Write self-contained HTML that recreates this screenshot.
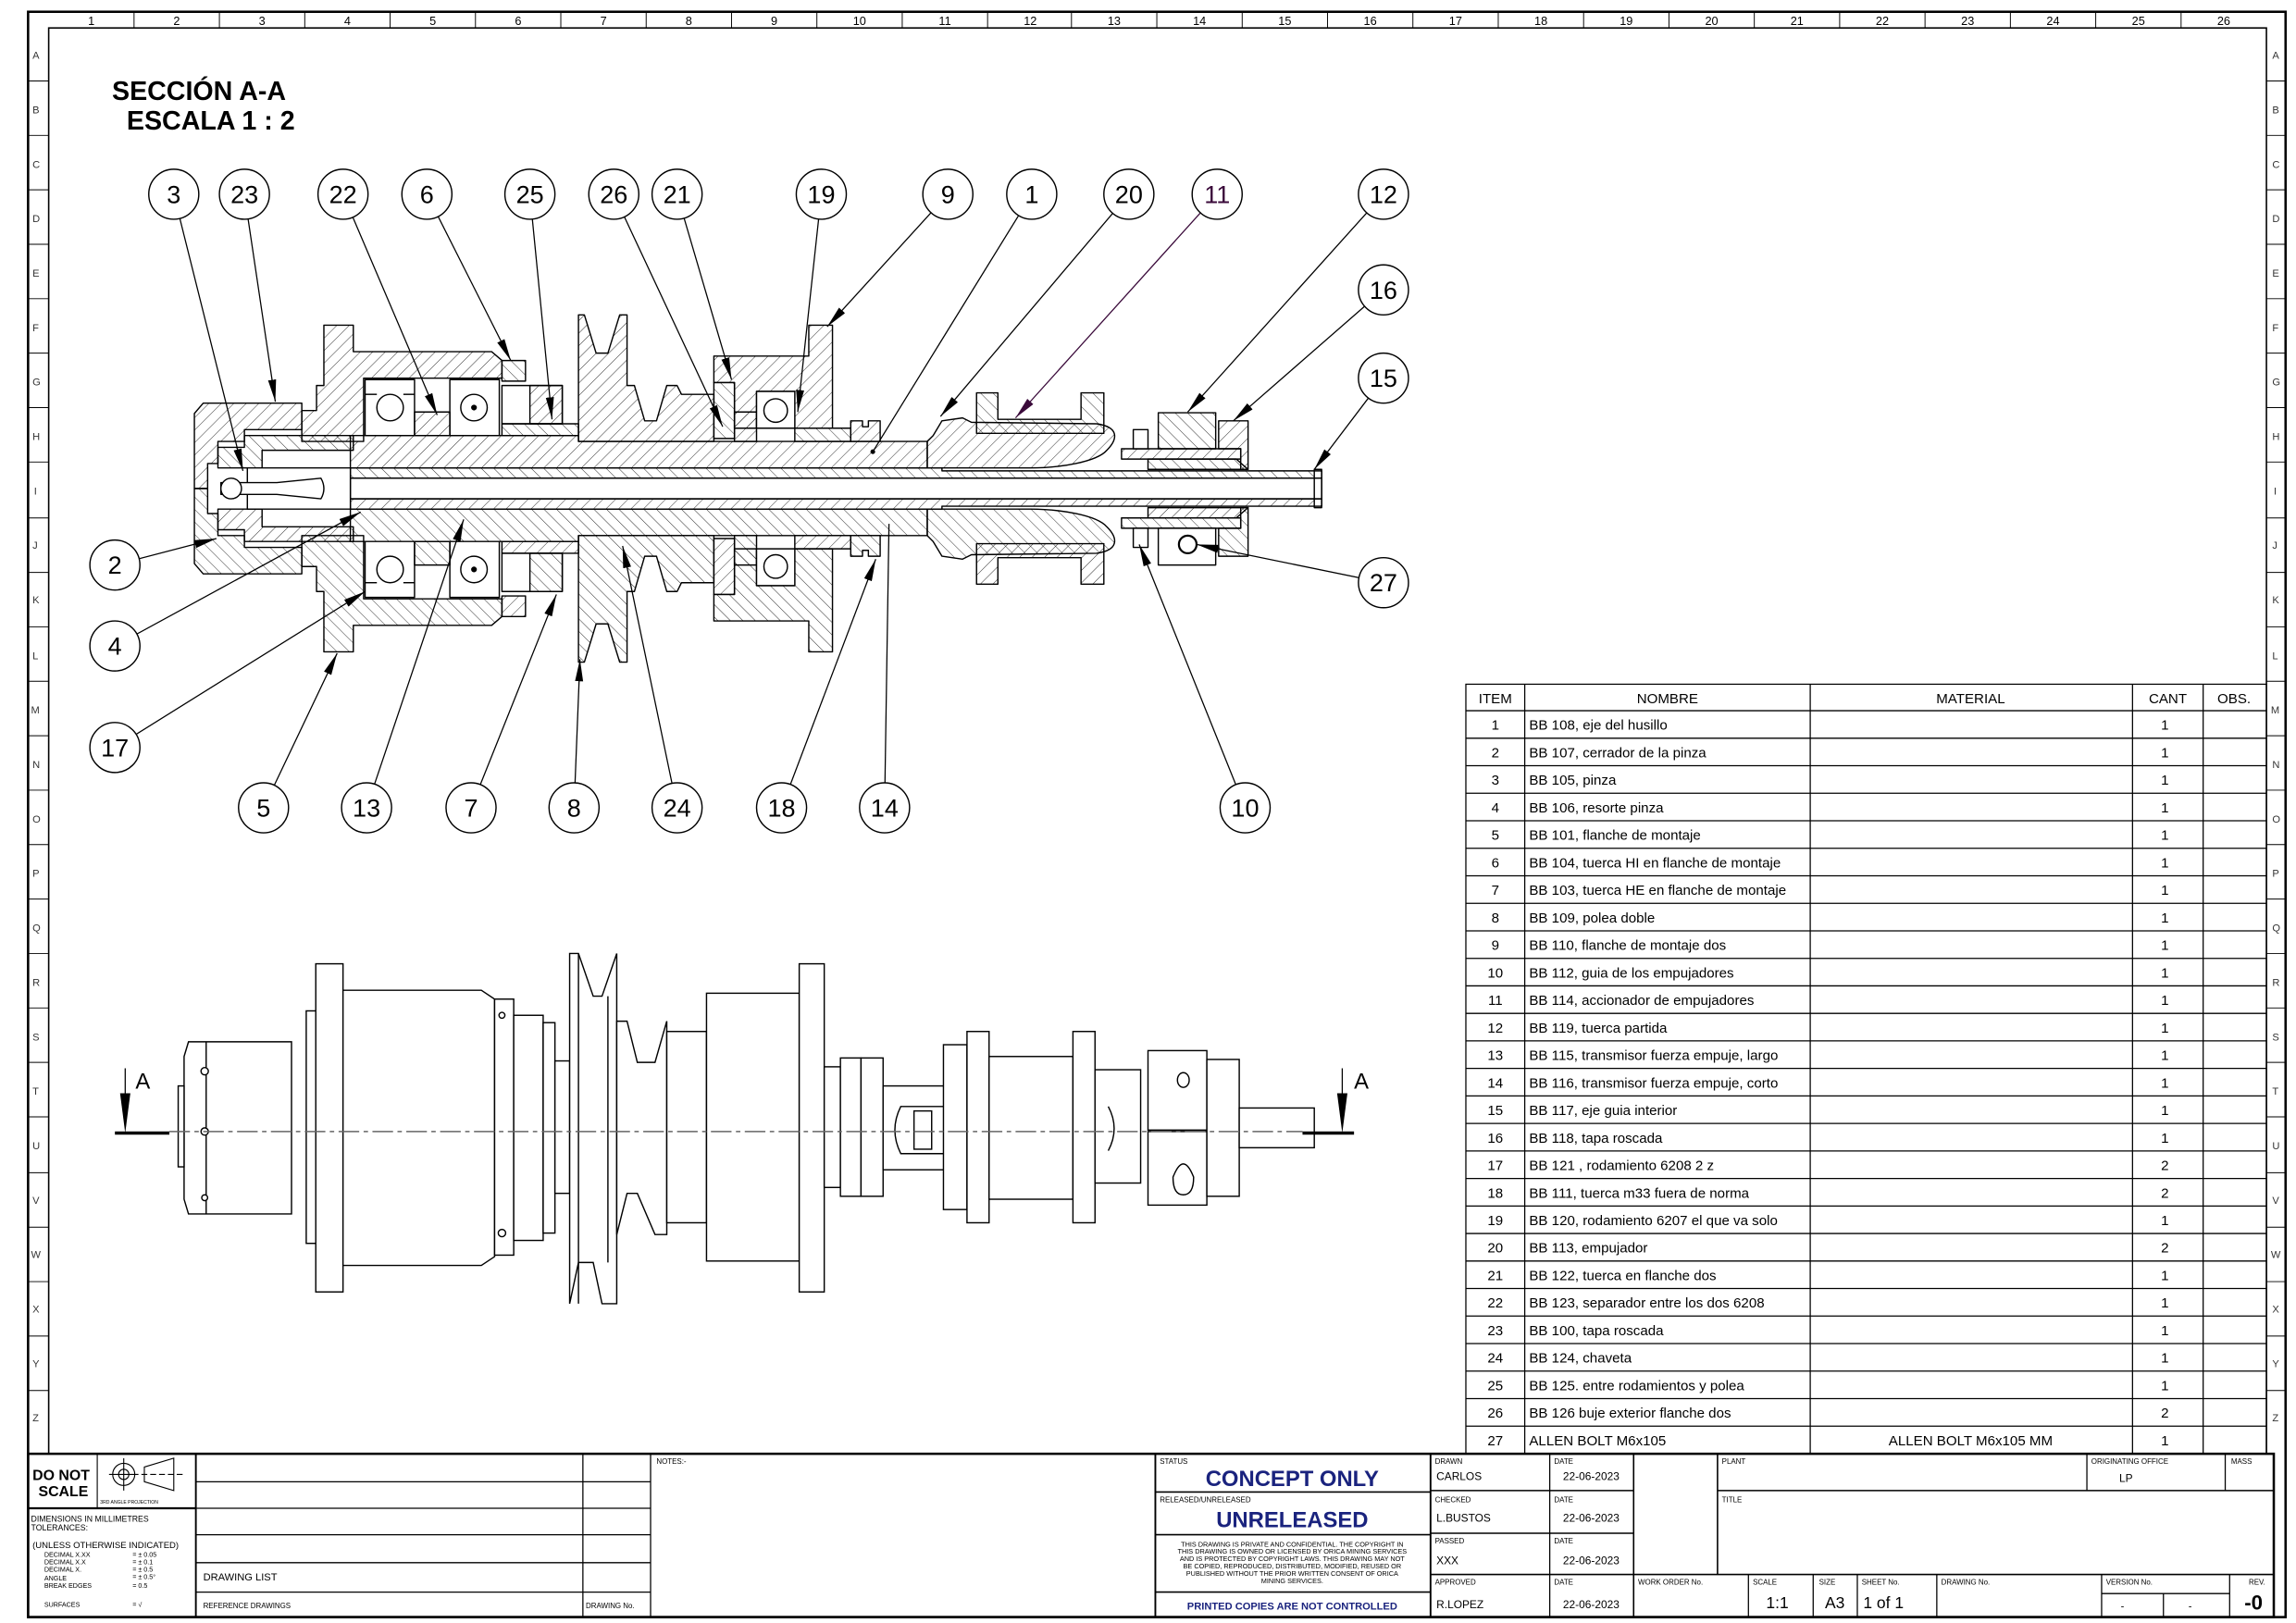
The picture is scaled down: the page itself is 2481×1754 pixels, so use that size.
<!DOCTYPE html>
<html><head><meta charset="utf-8"><style>
html,body{margin:0;padding:0;background:#fff}
svg{display:block}
text{font-family:"Liberation Sans",sans-serif}
.n{font-family:"Liberation Sans Narrow","Liberation Sans",sans-serif}
</style></head><body>
<svg width="2481" height="1754" viewBox="0 0 1560 1103" xmlns="http://www.w3.org/2000/svg">
<defs>
<pattern id="h" width="6" height="6" patternUnits="userSpaceOnUse" patternTransform="rotate(45)"><line x1="0" y1="0" x2="0" y2="6" stroke="#000" stroke-width="0.5"/></pattern>
<pattern id="h2" width="6" height="6" patternUnits="userSpaceOnUse" patternTransform="rotate(-45)"><line x1="0" y1="0" x2="0" y2="6" stroke="#000" stroke-width="0.5"/></pattern>
<marker id="ar" markerUnits="userSpaceOnUse" markerWidth="16" markerHeight="6" refX="15" refY="2.75" orient="auto"><path d="M0,0 L15,2.75 L0,5.5 z" fill="#000"/></marker>
<marker id="arp" markerUnits="userSpaceOnUse" markerWidth="16" markerHeight="6" refX="15" refY="2.75" orient="auto"><path d="M0,0 L15,2.75 L0,5.5 z" fill="#3a0a3a"/></marker>
<marker id="dot" markerUnits="userSpaceOnUse" markerWidth="4" markerHeight="4" refX="2" refY="2"><circle cx="2" cy="2" r="1.6" fill="#000"/></marker>
</defs>
<rect width="1560" height="1103" fill="#fff"/>
<!-- frame -->
<rect x="19" y="8" width="1534" height="1091" fill="none" stroke="#000" stroke-width="1.6"/>
<rect x="33" y="19" width="1507" height="969" fill="none" stroke="#000" stroke-width="1"/>
<g stroke="#000" stroke-width="0.6">
<line x1="91" y1="8" x2="91" y2="19"/><line x1="149" y1="8" x2="149" y2="19"/><line x1="207" y1="8" x2="207" y2="19"/><line x1="265" y1="8" x2="265" y2="19"/><line x1="323" y1="8" x2="323" y2="19"/><line x1="381" y1="8" x2="381" y2="19"/><line x1="439" y1="8" x2="439" y2="19"/><line x1="497" y1="8" x2="497" y2="19"/><line x1="555" y1="8" x2="555" y2="19"/><line x1="613" y1="8" x2="613" y2="19"/><line x1="671" y1="8" x2="671" y2="19"/><line x1="728" y1="8" x2="728" y2="19"/><line x1="786" y1="8" x2="786" y2="19"/><line x1="844" y1="8" x2="844" y2="19"/><line x1="902" y1="8" x2="902" y2="19"/><line x1="960" y1="8" x2="960" y2="19"/><line x1="1018" y1="8" x2="1018" y2="19"/><line x1="1076" y1="8" x2="1076" y2="19"/><line x1="1134" y1="8" x2="1134" y2="19"/><line x1="1192" y1="8" x2="1192" y2="19"/><line x1="1250" y1="8" x2="1250" y2="19"/><line x1="1308" y1="8" x2="1308" y2="19"/><line x1="1366" y1="8" x2="1366" y2="19"/><line x1="1424" y1="8" x2="1424" y2="19"/><line x1="1482" y1="8" x2="1482" y2="19"/>
</g>
<g font-size="8" text-anchor="middle" class="n">
<text x="62" y="17">1</text><text x="120" y="17">2</text><text x="178" y="17">3</text><text x="236" y="17">4</text><text x="294" y="17">5</text><text x="352" y="17">6</text><text x="410" y="17">7</text><text x="468" y="17">8</text><text x="526" y="17">9</text><text x="584" y="17">10</text><text x="642" y="17">11</text><text x="700" y="17">12</text><text x="757" y="17">13</text><text x="815" y="17">14</text><text x="873" y="17">15</text><text x="931" y="17">16</text><text x="989" y="17">17</text><text x="1047" y="17">18</text><text x="1105" y="17">19</text><text x="1163" y="17">20</text><text x="1221" y="17">21</text><text x="1279" y="17">22</text><text x="1337" y="17">23</text><text x="1395" y="17">24</text><text x="1453" y="17">25</text><text x="1511" y="17">26</text>
</g>
<g stroke="#000" stroke-width="0.6">
<line x1="19" y1="55" x2="33" y2="55"/><line x1="19" y1="92" x2="33" y2="92"/><line x1="19" y1="129" x2="33" y2="129"/><line x1="19" y1="166" x2="33" y2="166"/><line x1="19" y1="203" x2="33" y2="203"/><line x1="19" y1="240" x2="33" y2="240"/><line x1="19" y1="277" x2="33" y2="277"/><line x1="19" y1="314" x2="33" y2="314"/><line x1="19" y1="352" x2="33" y2="352"/><line x1="19" y1="389" x2="33" y2="389"/><line x1="19" y1="426" x2="33" y2="426"/><line x1="19" y1="463" x2="33" y2="463"/><line x1="19" y1="500" x2="33" y2="500"/><line x1="19" y1="537" x2="33" y2="537"/><line x1="19" y1="574" x2="33" y2="574"/><line x1="19" y1="611" x2="33" y2="611"/><line x1="19" y1="648" x2="33" y2="648"/><line x1="19" y1="685" x2="33" y2="685"/><line x1="19" y1="722" x2="33" y2="722"/><line x1="19" y1="759" x2="33" y2="759"/><line x1="19" y1="797" x2="33" y2="797"/><line x1="19" y1="834" x2="33" y2="834"/><line x1="19" y1="871" x2="33" y2="871"/><line x1="19" y1="908" x2="33" y2="908"/><line x1="19" y1="945" x2="33" y2="945"/>
<line x1="1540" y1="55" x2="1553" y2="55"/><line x1="1540" y1="92" x2="1553" y2="92"/><line x1="1540" y1="129" x2="1553" y2="129"/><line x1="1540" y1="166" x2="1553" y2="166"/><line x1="1540" y1="203" x2="1553" y2="203"/><line x1="1540" y1="240" x2="1553" y2="240"/><line x1="1540" y1="277" x2="1553" y2="277"/><line x1="1540" y1="314" x2="1553" y2="314"/><line x1="1540" y1="352" x2="1553" y2="352"/><line x1="1540" y1="389" x2="1553" y2="389"/><line x1="1540" y1="426" x2="1553" y2="426"/><line x1="1540" y1="463" x2="1553" y2="463"/><line x1="1540" y1="500" x2="1553" y2="500"/><line x1="1540" y1="537" x2="1553" y2="537"/><line x1="1540" y1="574" x2="1553" y2="574"/><line x1="1540" y1="611" x2="1553" y2="611"/><line x1="1540" y1="648" x2="1553" y2="648"/><line x1="1540" y1="685" x2="1553" y2="685"/><line x1="1540" y1="722" x2="1553" y2="722"/><line x1="1540" y1="759" x2="1553" y2="759"/><line x1="1540" y1="797" x2="1553" y2="797"/><line x1="1540" y1="834" x2="1553" y2="834"/><line x1="1540" y1="871" x2="1553" y2="871"/><line x1="1540" y1="908" x2="1553" y2="908"/><line x1="1540" y1="945" x2="1553" y2="945"/>
</g>
<g font-size="7" class="n" fill="#333">
<text x="22" y="40">A</text><text x="22" y="77">B</text><text x="22" y="114">C</text><text x="22" y="151">D</text><text x="22" y="188">E</text><text x="22" y="225">F</text><text x="22" y="262">G</text><text x="22" y="299">H</text><text x="23" y="336">I</text><text x="22" y="373">J</text><text x="22" y="410">K</text><text x="22" y="448">L</text><text x="21" y="485">M</text><text x="22" y="522">N</text><text x="22" y="559">O</text><text x="22" y="596">P</text><text x="22" y="633">Q</text><text x="22" y="670">R</text><text x="22" y="707">S</text><text x="22" y="744">T</text><text x="22" y="781">U</text><text x="22" y="818">V</text><text x="21" y="855">W</text><text x="22" y="892">X</text><text x="22" y="929">Y</text><text x="22" y="966">Z</text>
<text x="1544" y="40">A</text><text x="1544" y="77">B</text><text x="1544" y="114">C</text><text x="1544" y="151">D</text><text x="1544" y="188">E</text><text x="1544" y="225">F</text><text x="1544" y="262">G</text><text x="1544" y="299">H</text><text x="1545" y="336">I</text><text x="1544" y="373">J</text><text x="1544" y="410">K</text><text x="1544" y="448">L</text><text x="1543" y="485">M</text><text x="1544" y="522">N</text><text x="1544" y="559">O</text><text x="1544" y="596">P</text><text x="1544" y="633">Q</text><text x="1544" y="670">R</text><text x="1544" y="707">S</text><text x="1544" y="744">T</text><text x="1544" y="781">U</text><text x="1544" y="818">V</text><text x="1543" y="855">W</text><text x="1544" y="892">X</text><text x="1544" y="929">Y</text><text x="1544" y="966">Z</text>
</g>

<text x="76" y="68" font-size="18" font-weight="bold">SECCIÓN A-A</text>
<text x="86" y="88" font-size="18" font-weight="bold">ESCALA 1 : 2</text>

<!-- SECTION VIEW -->
<g stroke="#000" stroke-width="0.9" stroke-linejoin="round">
<g id="upper">
 <!-- cap 23 -->
 <polygon points="132,281 138,274 205,274 205,292 166,292 166,300 148,300 148,315 141,315 141,332 132,332" fill="url(#h)"/>
 <!-- pinza 3 -->
 <polygon points="148,304 166,304 166,296 240,296 240,306 178,306 178,318 148,318" fill="url(#h2)"/>
 <!-- housing 5 -->
 <polygon points="205,300 205,279 215,279 215,262 220,262 220,221 240,221 240,239 334,239 341,245 341,257 247,257 247,296 238,296 238,300" fill="url(#h)"/>
 <!-- spindle 1 -->
 <polygon points="238,300 247,300 247,296 393,296 393,300 630,300 630,318 238,318" fill="url(#h)"/>
 <!-- inner tube -->
 <polygon points="238,318 640,318 640,320 898,320 898,325 238,325" fill="url(#h2)"/>
 <!-- bearings -->
 <rect x="248" y="258" width="33.6" height="38" fill="#fff"/>
 <circle cx="265" cy="277" r="9" fill="#fff"/>
 <line x1="248" y1="268" x2="256" y2="268"/><line x1="274" y1="268" x2="281.6" y2="268"/>
 <rect x="305.6" y="258" width="33.6" height="38" fill="#fff"/>
 <circle cx="322" cy="277" r="9" fill="#fff"/>
 <circle cx="322" cy="277" r="1.5"/>
 <rect x="281.6" y="280" width="24" height="16" fill="url(#h)"/>
 <!-- nuts 6 / 25 -->
 <rect x="341" y="245" width="16" height="14" fill="url(#h2)"/>
 <rect x="341" y="262" width="41" height="26" fill="#fff"/>
 <rect x="360" y="262" width="22" height="26" fill="url(#h)"/>
 <rect x="341" y="288" width="52" height="8" fill="url(#h2)"/>
 <!-- pulley 8 -->
 <polygon points="393,214 397,214 405,240 413,240 421,214 426,214 426,262 431,262 438,286 446,286 453,262 460,262 463,268 485,268 485,300 393,300" fill="url(#h)"/>
 <!-- flange 9 -->
 <polygon points="549.5,221 565.6,221 565.6,291 540,291 540,266 514,266 514,291 499,291 499,260 485,260 485,242 549.5,242" fill="url(#h)"/>
 <rect x="485" y="260" width="14" height="38" fill="url(#h2)"/>
 <rect x="499" y="280" width="15" height="20" fill="url(#h)"/>
 <rect x="514" y="266" width="26" height="25" fill="#fff"/>
 <circle cx="527" cy="279" r="8" fill="#fff"/>
 <rect x="540" y="291" width="38" height="9" fill="url(#h2)"/>
 <!-- nut 18 -->
 <path d="M578,286 h8 v4 h4 v-4 h8 v14 h-20 z" fill="url(#h)"/>
 <!-- actuator 20 -->
 <path d="M630,300 L634,296 L640,286 L654,284 L660,287 L745,288 C760,290 760,298 752,306 C745,314 720,318 700,318 L630,318 Z" fill="url(#h)"/>
 <!-- part 11 -->
 <polygon points="663.5,267 678,267 678,285 734.5,285 734.5,267 750,267 750,294.5 663.5,294.5" fill="url(#h2)"/>
 <!-- sleeve 10 -->
 <rect x="762" y="305" width="81" height="7" fill="url(#h)"/>
 <rect x="770" y="292" width="10" height="13" fill="#fff"/>
 <!-- 16 -->
 <polygon points="828,286 848,286 848,319 843,319 843,305 828,305" fill="url(#h)"/>
 <polygon points="780,312 840,312 848,319 780,319" fill="url(#h2)"/>
</g>
<use href="#upper" transform="matrix(1 0 0 -1 0 664)"/>
 <!-- part 12 top (upper only) -->
 <rect x="787" y="280.5" width="39" height="24.5" fill="url(#h2)"/>
 <!-- lower box with bolt 27 -->
 <rect x="787" y="359" width="39" height="25" fill="#fff"/>
 <circle cx="807" cy="370" r="6" fill="#fff" stroke-width="1.4"/>
 <!-- bore -->
 <rect x="238" y="325" width="660" height="14" fill="#fff"/>
 <line x1="238" y1="325" x2="898" y2="325"/><line x1="238" y1="339" x2="898" y2="339"/>
 <polygon points="893,319 898,319 898,345 893,345" fill="none"/>
 <!-- collet interior -->
 <rect x="168" y="318" width="70" height="28" fill="#fff"/>
 <path d="M150,328 h38 l30,-3 q4,7 0,14 l-30,-3 h-38 z" fill="#fff"/>
 <circle cx="157" cy="332" r="7" fill="#fff"/>
 <line x1="132" y1="332" x2="141" y2="332"/>
</g>

<!-- leaders -->
<g stroke="#000" stroke-width="0.8" fill="none">
<line x1="118" y1="132" x2="165" y2="320" marker-end="url(#ar)"/>
<line x1="166" y1="132" x2="187" y2="273" marker-end="url(#ar)"/>
<line x1="233" y1="132" x2="297" y2="282" marker-end="url(#ar)"/>
<line x1="290" y1="132" x2="347" y2="245" marker-end="url(#ar)"/>
<line x1="360" y1="132" x2="375" y2="285" marker-end="url(#ar)"/>
<line x1="417" y1="132" x2="491" y2="290" marker-end="url(#ar)"/>
<line x1="460" y1="132" x2="497" y2="258" marker-end="url(#ar)"/>
<line x1="558" y1="132" x2="542" y2="280" marker-end="url(#ar)"/>
<line x1="644" y1="132" x2="562" y2="222" marker-end="url(#ar)"/>
<line x1="701" y1="132" x2="593" y2="307" marker-end="url(#dot)"/>
<line x1="767" y1="132" x2="639" y2="283" marker-end="url(#ar)"/>
<line x1="827" y1="132" x2="690" y2="284" stroke="#3a0a3a" marker-end="url(#arp)"/>
<line x1="940" y1="132" x2="807" y2="280" marker-end="url(#ar)"/>
<line x1="940" y1="197" x2="838" y2="286" marker-end="url(#ar)"/>
<line x1="940" y1="257" x2="893" y2="319" marker-end="url(#ar)"/>
<line x1="940" y1="396" x2="813" y2="370" marker-end="url(#ar)"/>
<line x1="846" y1="549" x2="774" y2="370" marker-end="url(#ar)"/>
<line x1="601" y1="549" x2="604" y2="356"/>
<line x1="531" y1="549" x2="595" y2="380" marker-end="url(#ar)"/>
<line x1="460" y1="549" x2="423" y2="371" marker-end="url(#ar)"/>
<line x1="390" y1="549" x2="394" y2="448" marker-end="url(#ar)"/>
<line x1="320" y1="549" x2="378" y2="404" marker-end="url(#ar)"/>
<line x1="249" y1="549" x2="315" y2="353" marker-end="url(#ar)"/>
<line x1="179" y1="549" x2="229" y2="444" marker-end="url(#ar)"/>
<line x1="78" y1="508" x2="248" y2="402" marker-end="url(#ar)"/>
<line x1="78" y1="439" x2="245" y2="348" marker-end="url(#ar)"/>
<line x1="78" y1="384" x2="147" y2="366" marker-end="url(#ar)"/>
</g>
<!-- balloons -->
<g fill="#fff" stroke="#000" stroke-width="0.9">
<circle cx="118" cy="132" r="17"/><circle cx="166" cy="132" r="17"/><circle cx="233" cy="132" r="17"/><circle cx="290" cy="132" r="17"/><circle cx="360" cy="132" r="17"/><circle cx="417" cy="132" r="17"/><circle cx="460" cy="132" r="17"/><circle cx="558" cy="132" r="17"/><circle cx="644" cy="132" r="17"/><circle cx="701" cy="132" r="17"/><circle cx="767" cy="132" r="17"/><circle cx="827" cy="132" r="17"/><circle cx="940" cy="132" r="17"/><circle cx="940" cy="197" r="17"/><circle cx="940" cy="257" r="17"/><circle cx="940" cy="396" r="17"/><circle cx="78" cy="384" r="17"/><circle cx="78" cy="439" r="17"/><circle cx="78" cy="508" r="17"/><circle cx="179" cy="549" r="17"/><circle cx="249" cy="549" r="17"/><circle cx="320" cy="549" r="17"/><circle cx="390" cy="549" r="17"/><circle cx="460" cy="549" r="17"/><circle cx="531" cy="549" r="17"/><circle cx="601" cy="549" r="17"/><circle cx="846" cy="549" r="17"/>
</g>
<g font-size="17" text-anchor="middle">
<text x="118" y="138">3</text><text x="166" y="138">23</text><text x="233" y="138">22</text><text x="290" y="138">6</text><text x="360" y="138">25</text><text x="417" y="138">26</text><text x="460" y="138">21</text><text x="558" y="138">19</text><text x="644" y="138">9</text><text x="701" y="138">1</text><text x="767" y="138">20</text><text x="827" y="138" fill="#3a0a3a">11</text><text x="940" y="138">12</text><text x="940" y="203">16</text><text x="940" y="263">15</text><text x="940" y="402">27</text><text x="78" y="390">2</text><text x="78" y="445">4</text><text x="78" y="514">17</text><text x="179" y="555">5</text><text x="249" y="555">13</text><text x="320" y="555">7</text><text x="390" y="555">8</text><text x="460" y="555">24</text><text x="531" y="555">18</text><text x="601" y="555">14</text><text x="846" y="555">10</text>
</g>

<!-- LOWER VIEW -->
<g stroke="#000" stroke-width="0.9" fill="#fff">
<polygon points="128,708 198,708 198,825 128,825 125,815 125,718"/>
<line x1="140" y1="708" x2="140" y2="825"/>
<rect x="121" y="738" width="4" height="55"/>
<rect x="208" y="687" width="7" height="158"/>
<rect x="214.5" y="655" width="18.5" height="223"/>
<polygon points="233,673 327,673 336,679 336,854 327,860 233,860"/>
<rect x="336" y="679" width="13" height="174"/>
<rect x="349" y="690" width="20" height="153"/>
<rect x="369" y="695" width="8" height="143"/>
<rect x="377" y="721" width="10" height="90"/>
<polygon points="387,648 393,648 403,677 409,677 419,648 419,886 409,886 403,858 393,858 387,886"/>
<line x1="393" y1="648" x2="393" y2="886"/><line x1="413" y1="677" x2="413" y2="858"/>
<polygon points="419,694 426,694 433,722 445,722 453,694 453,839 445,839 433,811 426,811 419,839"/>
<rect x="453" y="701" width="27" height="130"/>
<rect x="480" y="675" width="63" height="182"/>
<rect x="543" y="655" width="17" height="223"/>
<rect x="560" y="725" width="11" height="82"/>
<rect x="571" y="719" width="14" height="94"/>
<rect x="585" y="719" width="15" height="94"/>
<rect x="600" y="738" width="42" height="57"/>
<path d="M612,752 h50 v32 h-50 q-8,-16 0,-32 z"/>
<rect x="621" y="755" width="12" height="26"/>
<rect x="641" y="710" width="16" height="112"/>
<rect x="657" y="701" width="15" height="130"/>
<rect x="672" y="718" width="57" height="97"/>
<rect x="729" y="701" width="15" height="130"/>
<rect x="744" y="727" width="31" height="77"/>
<path d="M753,752 q8,15 0,30" fill="none"/>
<rect x="780" y="714" width="40" height="54"/>
<rect x="780" y="769" width="40" height="50"/>
<rect x="820" y="720" width="22" height="93"/>
<rect x="842" y="753" width="51" height="27"/>
<ellipse cx="804" cy="734" rx="4" ry="5"/>
<path d="M797,800 q7,-18 14,0 q0,12 -7,12 q-7,0 -7,-12 z"/>
<circle cx="139" cy="728" r="2.5"/><circle cx="139" cy="769" r="2.5"/><circle cx="139" cy="814" r="2"/>
<circle cx="341" cy="690" r="2"/><circle cx="341" cy="838" r="2.5"/>
</g>
<line x1="115" y1="769" x2="885" y2="769" stroke="#666" stroke-width="1" stroke-dasharray="14,3,3,3"/>
<line x1="78" y1="770" x2="115" y2="770" stroke="#000" stroke-width="2.2"/>
<line x1="885" y1="770" x2="920" y2="770" stroke="#000" stroke-width="2.2"/>
<line x1="85" y1="726" x2="85" y2="755" stroke="#000" stroke-width="0.8"/>
<path d="M81.5,743 L88.5,743 L85,770 Z"/>
<line x1="912" y1="726" x2="912" y2="755" stroke="#000" stroke-width="0.8"/>
<path d="M908.5,743 L915.5,743 L912,770 Z"/>
<text x="92" y="740" font-size="15" class="n">A</text>
<text x="920" y="740" font-size="15" class="n">A</text>

<!-- BOM TABLE -->
<g stroke="#000" stroke-width="0.8" fill="none">
<rect x="996" y="465" width="544" height="523"/>
<line x1="1036" y1="465" x2="1036" y2="988"/><line x1="1230" y1="465" x2="1230" y2="988"/><line x1="1449" y1="465" x2="1449" y2="988"/><line x1="1497" y1="465" x2="1497" y2="988"/>
<line x1="996" y1="483" x2="1540" y2="483"/><line x1="996" y1="501.7" x2="1540" y2="501.7"/><line x1="996" y1="520.4" x2="1540" y2="520.4"/><line x1="996" y1="539.1" x2="1540" y2="539.1"/><line x1="996" y1="557.8" x2="1540" y2="557.8"/><line x1="996" y1="576.5" x2="1540" y2="576.5"/><line x1="996" y1="595.2" x2="1540" y2="595.2"/><line x1="996" y1="613.9" x2="1540" y2="613.9"/><line x1="996" y1="632.6" x2="1540" y2="632.6"/><line x1="996" y1="651.3" x2="1540" y2="651.3"/><line x1="996" y1="670" x2="1540" y2="670"/><line x1="996" y1="688.7" x2="1540" y2="688.7"/><line x1="996" y1="707.4" x2="1540" y2="707.4"/><line x1="996" y1="726.1" x2="1540" y2="726.1"/><line x1="996" y1="744.8" x2="1540" y2="744.8"/><line x1="996" y1="763.5" x2="1540" y2="763.5"/><line x1="996" y1="782.2" x2="1540" y2="782.2"/><line x1="996" y1="800.9" x2="1540" y2="800.9"/><line x1="996" y1="819.6" x2="1540" y2="819.6"/><line x1="996" y1="838.3" x2="1540" y2="838.3"/><line x1="996" y1="857" x2="1540" y2="857"/><line x1="996" y1="875.7" x2="1540" y2="875.7"/><line x1="996" y1="894.4" x2="1540" y2="894.4"/><line x1="996" y1="913.1" x2="1540" y2="913.1"/><line x1="996" y1="931.8" x2="1540" y2="931.8"/><line x1="996" y1="950.5" x2="1540" y2="950.5"/><line x1="996" y1="969.2" x2="1540" y2="969.2"/>
</g>
<g font-size="9.5" class="n">
<g text-anchor="middle"><text x="1016" y="478">ITEM</text><text x="1133" y="478">NOMBRE</text><text x="1339" y="478">MATERIAL</text><text x="1473" y="478">CANT</text><text x="1518" y="478">OBS.</text></g>
<g text-anchor="middle">
<text x="1016" y="496">1</text><text x="1016" y="514.7">2</text><text x="1016" y="533.4">3</text><text x="1016" y="552.1">4</text><text x="1016" y="570.8">5</text><text x="1016" y="589.5">6</text><text x="1016" y="608.2">7</text><text x="1016" y="626.9">8</text><text x="1016" y="645.6">9</text><text x="1016" y="664.3">10</text><text x="1016" y="683">11</text><text x="1016" y="701.7">12</text><text x="1016" y="720.4">13</text><text x="1016" y="739.1">14</text><text x="1016" y="757.8">15</text><text x="1016" y="776.5">16</text><text x="1016" y="795.2">17</text><text x="1016" y="813.9">18</text><text x="1016" y="832.6">19</text><text x="1016" y="851.3">20</text><text x="1016" y="870">21</text><text x="1016" y="888.7">22</text><text x="1016" y="907.4">23</text><text x="1016" y="926.1">24</text><text x="1016" y="944.8">25</text><text x="1016" y="963.5">26</text><text x="1016" y="982.2">27</text>
<text x="1471" y="496">1</text><text x="1471" y="514.7">1</text><text x="1471" y="533.4">1</text><text x="1471" y="552.1">1</text><text x="1471" y="570.8">1</text><text x="1471" y="589.5">1</text><text x="1471" y="608.2">1</text><text x="1471" y="626.9">1</text><text x="1471" y="645.6">1</text><text x="1471" y="664.3">1</text><text x="1471" y="683">1</text><text x="1471" y="701.7">1</text><text x="1471" y="720.4">1</text><text x="1471" y="739.1">1</text><text x="1471" y="757.8">1</text><text x="1471" y="776.5">1</text><text x="1471" y="795.2">2</text><text x="1471" y="813.9">2</text><text x="1471" y="832.6">1</text><text x="1471" y="851.3">2</text><text x="1471" y="870">1</text><text x="1471" y="888.7">1</text><text x="1471" y="907.4">1</text><text x="1471" y="926.1">1</text><text x="1471" y="944.8">1</text><text x="1471" y="963.5">2</text><text x="1471" y="982.2">1</text>
<text x="1339" y="982.2">ALLEN BOLT M6x105 MM</text>
</g>
<text x="1039" y="496">BB 108, eje del husillo</text>
<text x="1039" y="514.7">BB 107, cerrador de la pinza</text>
<text x="1039" y="533.4">BB 105, pinza</text>
<text x="1039" y="552.1">BB 106, resorte pinza</text>
<text x="1039" y="570.8">BB 101, flanche de montaje</text>
<text x="1039" y="589.5">BB 104, tuerca HI en flanche de montaje</text>
<text x="1039" y="608.2">BB 103, tuerca HE en flanche de montaje</text>
<text x="1039" y="626.9">BB 109, polea doble</text>
<text x="1039" y="645.6">BB 110, flanche de montaje dos</text>
<text x="1039" y="664.3">BB 112, guia de los empujadores</text>
<text x="1039" y="683">BB 114, accionador de empujadores</text>
<text x="1039" y="701.7">BB 119, tuerca partida</text>
<text x="1039" y="720.4">BB 115, transmisor fuerza empuje, largo</text>
<text x="1039" y="739.1">BB 116, transmisor fuerza empuje, corto</text>
<text x="1039" y="757.8">BB 117, eje guia interior</text>
<text x="1039" y="776.5">BB 118, tapa roscada</text>
<text x="1039" y="795.2">BB 121 , rodamiento 6208 2 z</text>
<text x="1039" y="813.9">BB 111, tuerca m33 fuera de norma</text>
<text x="1039" y="832.6">BB 120, rodamiento 6207 el que va solo</text>
<text x="1039" y="851.3">BB 113, empujador</text>
<text x="1039" y="870">BB 122, tuerca en flanche dos</text>
<text x="1039" y="888.7">BB 123, separador entre los dos 6208</text>
<text x="1039" y="907.4">BB 100, tapa roscada</text>
<text x="1039" y="926.1">BB 124, chaveta</text>
<text x="1039" y="944.8">BB 125. entre rodamientos y polea</text>
<text x="1039" y="963.5">BB 126 buje exterior flanche dos</text>
<text x="1039" y="982.2">ALLEN BOLT M6x105</text>
</g>

<!-- TITLE BLOCK -->
<g stroke="#000" fill="none">
<rect x="19" y="988" width="1526" height="111" stroke-width="1.6"/>
<line x1="19" y1="1025" x2="133" y2="1025" stroke-width="1.4"/>
<line x1="133" y1="988" x2="133" y2="1099" stroke-width="1.2"/>
<line x1="66" y1="988" x2="66" y2="1025" stroke-width="0.7"/>
<line x1="396" y1="988" x2="396" y2="1099" stroke-width="0.8"/>
<line x1="442" y1="988" x2="442" y2="1099" stroke-width="0.8"/>
<g stroke-width="0.8"><line x1="133" y1="1007" x2="442" y2="1007"/><line x1="133" y1="1025" x2="442" y2="1025"/><line x1="133" y1="1043" x2="442" y2="1043"/><line x1="133" y1="1062" x2="442" y2="1062"/><line x1="133" y1="1082" x2="442" y2="1082"/></g>
<line x1="785" y1="988" x2="785" y2="1099" stroke-width="1.2"/>
<line x1="972" y1="988" x2="972" y2="1099" stroke-width="1.2"/>
<g stroke-width="1"><line x1="785" y1="1014" x2="972" y2="1014"/><line x1="785" y1="1043" x2="972" y2="1043"/><line x1="785" y1="1082" x2="972" y2="1082"/></g>
<line x1="1053" y1="988" x2="1053" y2="1099" stroke-width="0.8"/>
<line x1="1110" y1="988" x2="1110" y2="1099" stroke-width="1"/>
<line x1="1167" y1="988" x2="1167" y2="1070" stroke-width="1"/>
<g stroke-width="1"><line x1="972" y1="1013" x2="1110" y2="1013"/><line x1="972" y1="1042" x2="1110" y2="1042"/><line x1="972" y1="1070" x2="1545" y2="1070"/><line x1="1167" y1="1013" x2="1545" y2="1013"/></g>
<line x1="1418" y1="988" x2="1418" y2="1013" stroke-width="0.8"/><line x1="1512" y1="988" x2="1512" y2="1013" stroke-width="0.8"/>
<g stroke-width="0.8"><line x1="1188" y1="1070" x2="1188" y2="1099"/><line x1="1232" y1="1070" x2="1232" y2="1099"/><line x1="1262" y1="1070" x2="1262" y2="1099"/><line x1="1316" y1="1070" x2="1316" y2="1099"/><line x1="1428" y1="1070" x2="1428" y2="1099"/><line x1="1515" y1="1070" x2="1515" y2="1099"/><line x1="1428" y1="1083" x2="1515" y2="1083"/><line x1="1470" y1="1083" x2="1470" y2="1099"/></g>
<!-- projection symbol -->
<g stroke-width="0.7"><circle cx="84" cy="1002" r="7.5"/><circle cx="84" cy="1002" r="3.5"/><line x1="74" y1="1002" x2="94" y2="1002"/><line x1="84" y1="991" x2="84" y2="1013"/><polygon points="98,997 118,991 118,1013 98,1007"/><line x1="96" y1="1002" x2="126" y2="1002" stroke-dasharray="4,2"/></g>
</g>
<g class="n">
<text x="22" y="1006" font-size="10" font-weight="bold">DO NOT</text>
<text x="26" y="1017" font-size="10" font-weight="bold">SCALE</text>
<text x="68" y="1022" font-size="3.2">3RD ANGLE PROJECTION</text>
<text x="21" y="1034" font-size="5.5">DIMENSIONS IN MILLIMETRES</text>
<text x="21" y="1040" font-size="5.5">TOLERANCES:</text>
<text x="22" y="1052" font-size="6">(UNLESS OTHERWISE INDICATED)</text>
<g font-size="4.5"><text x="30" y="1058">DECIMAL X.XX</text><text x="30" y="1063">DECIMAL X.X</text><text x="30" y="1068">DECIMAL X.</text><text x="30" y="1074">ANGLE</text><text x="30" y="1079">BREAK EDGES</text><text x="30" y="1092">SURFACES</text>
<text x="90" y="1058">=  ± 0.05</text><text x="90" y="1063">=  ± 0.1</text><text x="90" y="1068">=  ± 0.5</text><text x="90" y="1073">=  ± 0.5°</text><text x="90" y="1079">=  0.5</text><text x="90" y="1092">= √</text></g>
<text x="138" y="1074" font-size="7">DRAWING LIST</text>
<text x="138" y="1093" font-size="5">REFERENCE DRAWINGS</text>
<text x="398" y="1093" font-size="5">DRAWING No.</text>
<text x="446" y="995" font-size="5">NOTES:-</text>
<text x="788" y="995" font-size="5">STATUS</text>
<text x="878" y="1010" font-size="15" font-weight="bold" fill="#1a237e" text-anchor="middle">CONCEPT ONLY</text>
<text x="788" y="1021" font-size="5">RELEASED/UNRELEASED</text>
<text x="878" y="1038" font-size="15" font-weight="bold" fill="#1a237e" text-anchor="middle">UNRELEASED</text>
<g font-size="4.6" text-anchor="middle"><text x="878" y="1051">THIS DRAWING IS PRIVATE AND CONFIDENTIAL. THE COPYRIGHT IN</text><text x="878" y="1056">THIS DRAWING IS OWNED OR LICENSED BY ORICA MINING SERVICES</text><text x="878" y="1061">AND IS PROTECTED BY COPYRIGHT LAWS. THIS DRAWING MAY NOT</text><text x="878" y="1066">BE COPIED, REPRODUCED, DISTRIBUTED, MODIFIED, REUSED OR</text><text x="878" y="1071">PUBLISHED WITHOUT THE PRIOR WRITTEN CONSENT OF ORICA</text><text x="878" y="1076">MINING SERVICES.</text></g>
<text x="878" y="1094" font-size="7" font-weight="bold" fill="#1a237e" text-anchor="middle">PRINTED COPIES ARE NOT CONTROLLED</text>
<g font-size="5"><text x="975" y="995">DRAWN</text><text x="1056" y="995">DATE</text><text x="975" y="1021">CHECKED</text><text x="1056" y="1021">DATE</text><text x="975" y="1049">PASSED</text><text x="1056" y="1049">DATE</text><text x="975" y="1077">APPROVED</text><text x="1056" y="1077">DATE</text>
<text x="1170" y="995">PLANT</text><text x="1421" y="995">ORIGINATING OFFICE</text><text x="1516" y="995">MASS</text><text x="1170" y="1021">TITLE</text>
<text x="1113" y="1077">WORK ORDER No.</text><text x="1191" y="1077">SCALE</text><text x="1236" y="1077">SIZE</text><text x="1265" y="1077">SHEET No.</text><text x="1319" y="1077">DRAWING No.</text><text x="1431" y="1077">VERSION No.</text><text x="1528" y="1077">REV.</text></g>
<g font-size="7.5"><text x="976" y="1006">CARLOS</text><text x="1062" y="1006">22-06-2023</text><text x="976" y="1034">L.BUSTOS</text><text x="1062" y="1034">22-06-2023</text><text x="976" y="1063">XXX</text><text x="1062" y="1063">22-06-2023</text><text x="976" y="1093">R.LOPEZ</text><text x="1062" y="1093">22-06-2023</text><text x="1440" y="1007">LP</text></g>
<text x="1200" y="1093" font-size="11">1:1</text>
<text x="1240" y="1093" font-size="11">A3</text>
<text x="1266" y="1093" font-size="11">1  of 1</text>
<text x="1441" y="1094" font-size="7">-</text><text x="1487" y="1094" font-size="7">-</text>
<text x="1525" y="1094" font-size="14" font-weight="bold">-0</text>
</g>
</svg>
</body></html>
